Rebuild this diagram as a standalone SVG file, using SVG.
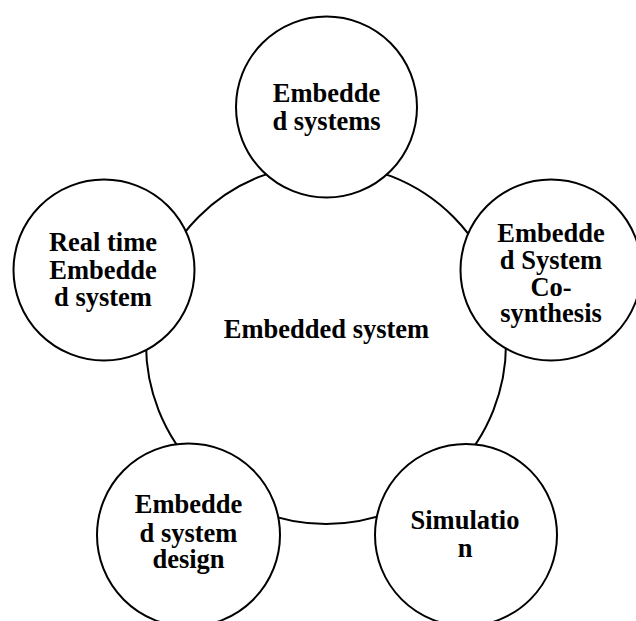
<svg xmlns="http://www.w3.org/2000/svg" width="636" height="621" viewBox="0 0 636 621">
<style>
  .c { fill: #ffffff; stroke: #000000; stroke-width: 2; }
  .t { font-family: "Liberation Serif", "Times New Roman", serif; font-weight: bold; font-size: 26.5px; fill: #000000; text-anchor: middle; }
</style>
<rect width="636" height="621" fill="#ffffff"/>
<g id="center">
  <circle class="c" cx="326" cy="344" r="180"/>
  <text class="t" x="326.5" y="338">Embedded system</text>
</g>
<g id="embedded-systems">
  <circle class="c" cx="326.5" cy="107" r="90.5"/>
  <text class="t" x="326.5" y="101.7">Embedde</text>
  <text class="t" x="326.5" y="129.5">d systems</text>
</g>
<g id="real-time">
  <circle class="c" cx="104" cy="270" r="90.5"/>
  <text class="t" x="103" y="251">Real time</text>
  <text class="t" x="103" y="279">Embedde</text>
  <text class="t" x="103" y="306">d system</text>
</g>
<g id="cosynthesis">
  <circle class="c" cx="551" cy="270" r="90.5"/>
  <text class="t" x="551" y="241.7">Embedde</text>
  <text class="t" x="551" y="269">d System</text>
  <text class="t" x="551" y="296">Co-</text>
  <text class="t" x="551" y="321.7">synthesis</text>
</g>
<g id="design">
  <circle class="c" cx="188.5" cy="535" r="91.5"/>
  <text class="t" x="188.5" y="513">Embedde</text>
  <text class="t" x="188.5" y="541.5">d system</text>
  <text class="t" x="188.5" y="568">design</text>
</g>
<g id="simulation">
  <circle class="c" cx="466" cy="535" r="91"/>
  <text class="t" x="465" y="529">Simulatio</text>
  <text class="t" x="465" y="556.5">n</text>
</g>
</svg>
